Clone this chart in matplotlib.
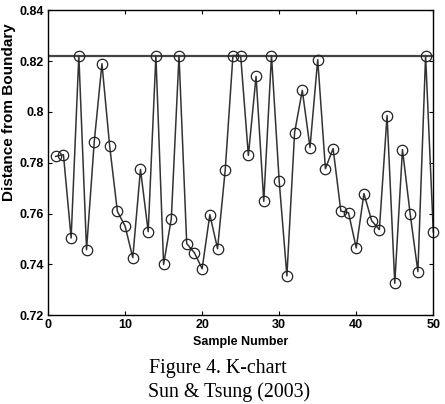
import matplotlib.pyplot as plt
import numpy as np

samples = np.arange(1, 51)
distance = [0.7825, 0.7832, 0.7504, 0.8222, 0.7458, 0.7883, 0.8190, 0.7866, 0.7609, 0.7551,
            0.7427, 0.7774, 0.7529, 0.8222, 0.7400, 0.7580, 0.8222, 0.7482, 0.7446, 0.7383,
            0.7596, 0.7462, 0.7773, 0.8222, 0.8222, 0.7829, 0.8140, 0.7648, 0.8222, 0.7728,
            0.7355, 0.7919, 0.8085, 0.7860, 0.8206, 0.7777, 0.7856, 0.7610, 0.7603, 0.7465,
            0.7679, 0.7572, 0.7537, 0.7986, 0.7326, 0.7852, 0.7598, 0.7372, 0.8222, 0.7528]
control_limit = 0.8222
x_ticks = [0, 10, 20, 30, 40, 50]
y_ticks = [0.72, 0.74, 0.76, 0.78, 0.80, 0.82, 0.84]
y_labels = ['0.72', '0.74', '0.76', '0.78', '0.8', '0.82', '0.84']

plt.rcParams['font.family'] = ['Liberation Sans', 'DejaVu Sans']

fig = plt.figure(figsize=(4.45, 4.04), dpi=100)
ax = fig.add_axes([0.1079, 0.2196, 0.8658, 0.7549])

ax.axhline(control_limit, color='#444444', linewidth=1.6, zorder=1)
ax.plot(samples, distance, color='#333333', linewidth=1.1, marker='o',
        markersize=7.5, markerfacecolor='none', markeredgecolor='#222222',
        markeredgewidth=0.9, zorder=2, clip_on=False)

ax.set_xlim(0, 50)
ax.set_ylim(0.72, 0.84)
ax.set_xticks(x_ticks)
ax.set_yticks(y_ticks)
ax.set_yticklabels(y_labels)
ax.tick_params(direction='in', length=3, width=0.8, top=True, right=True,
               labelsize=9, pad=3)
for lab in ax.get_xticklabels() + ax.get_yticklabels():
    lab.set_fontweight('bold')
for s in ax.spines.values():
    s.set_linewidth(1.0)

ax.set_xlabel('Sample Number', fontsize=9, fontweight='bold', labelpad=3)
fig.text(0.02, 0.723, 'Distance from Boundary', rotation=90, ha='center', va='center',
         fontsize=11, fontweight='bold')

fig.text(0.49, 0.088, 'Figure 4. K-chart', ha='center', va='center',
         fontsize=14.3, family='Liberation Serif')
fig.text(0.515, 0.03, 'Sun & Tsung (2003)', ha='center', va='center',
         fontsize=14.3, family='Liberation Serif')

fig.savefig('out.png', dpi=100)
